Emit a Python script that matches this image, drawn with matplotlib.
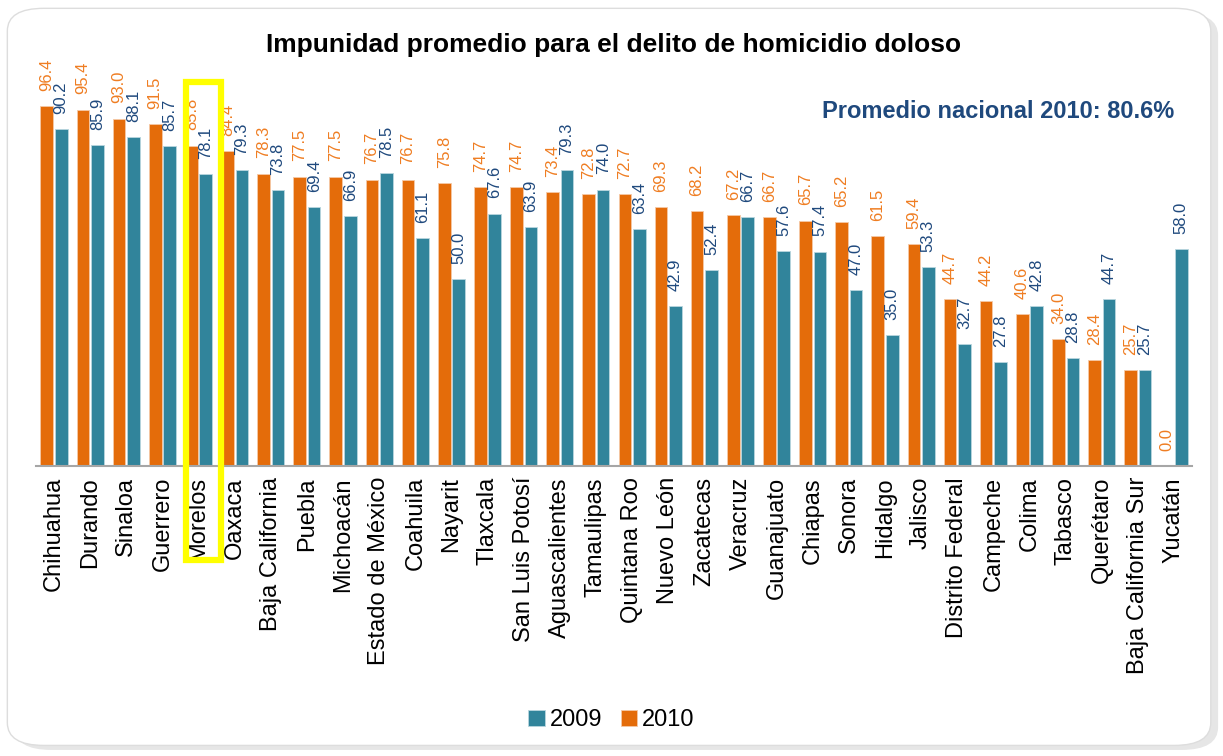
import matplotlib.pyplot as plt
import numpy as np
from matplotlib.patches import FancyBboxPatch, Rectangle

plt.rcParams['font.family'] = ['Liberation Sans', 'DejaVu Sans']

estados = ["Chihuahua", "Durando", "Sinaloa", "Guerrero", "Morelos", "Oaxaca",
           "Baja California", "Puebla", "Michoacán", "Estado de México", "Coahuila",
           "Nayarit", "Tlaxcala", "San Luis Potosí", "Aguascalientes", "Tamaulipas",
           "Quintana Roo", "Nuevo León", "Zacatecas", "Veracruz", "Guanajuato",
           "Chiapas", "Sonora", "Hidalgo", "Jalisco", "Distrito Federal", "Campeche",
           "Colima", "Tabasco", "Querétaro", "Baja California Sur", "Yucatán"]
v2010 = [96.4, 95.4, 93.0, 91.5, 85.8, 84.4, 78.3, 77.5, 77.5, 76.7, 76.7, 75.8,
         74.7, 74.7, 73.4, 72.8, 72.7, 69.3, 68.2, 67.2, 66.7, 65.7, 65.2, 61.5,
         59.4, 44.7, 44.2, 40.6, 34.0, 28.4, 25.7, 0.0]
v2009 = [90.2, 85.9, 88.1, 85.7, 78.1, 79.3, 73.8, 69.4, 66.9, 78.5, 61.1, 50.0,
         67.6, 63.9, 79.3, 74.0, 63.4, 42.9, 52.4, 66.7, 57.6, 57.4, 47.0, 35.0,
         53.3, 32.7, 27.8, 42.8, 28.8, 44.7, 25.7, 58.0]

c09 = '#31849B'
c10 = '#E46C0A'
lab09 = '#1F497D'
lab10 = '#EF7D22'

fig = plt.figure(figsize=(12.23, 7.56), dpi=100)
# rounded frame with soft shadow
fig.patches.append(FancyBboxPatch((0.012, 0.008), 0.984, 0.975, boxstyle="round,pad=0,rounding_size=0.03",
                                  transform=fig.transFigure, facecolor='#E6E6E6', edgecolor='none', zorder=-2))
fig.patches.append(FancyBboxPatch((0.006, 0.014), 0.984, 0.975, boxstyle="round,pad=0,rounding_size=0.03",
                                  transform=fig.transFigure, facecolor='white', edgecolor='#DDDDDD', lw=1, zorder=-1))

ax = fig.add_axes([0.0294, 0.3836, 0.9453, 0.5434])
ax.set_zorder(2)
ax.patch.set_visible(False)
x = np.arange(len(estados))
w = 0.35
b10 = ax.bar(x - 0.2, v2010, w, color=c10, edgecolor='#F5C9A6', linewidth=0.6, label='2010')
b09 = ax.bar(x + 0.2, v2009, w, color=c09, edgecolor='#B9D6DE', linewidth=0.6, label='2009')

for xi, v in zip(x, v2010):
    ax.annotate(f"{v:.1f}", (xi - 0.2, v), xytext=(0, 11), textcoords='offset points',
                rotation=90, ha='center', va='bottom', fontsize=12, color=lab10)
for xi, v in zip(x, v2009):
    ax.annotate(f"{v:.1f}", (xi + 0.2, v), xytext=(0, 11), textcoords='offset points',
                rotation=90, ha='center', va='bottom', fontsize=12, color=lab09)

ax.set_xlim(-0.5, 31.5)
ax.set_ylim(0, 110)
ax.set_xticks(x)
ax.set_xticklabels(estados, rotation=90, fontsize=17)
ax.tick_params(axis='x', length=0, pad=8)
ax.set_yticks([])
for s in ['top', 'right', 'left']:
    ax.spines[s].set_visible(False)
ax.spines['bottom'].set_color('#A6A6A6')
ax.spines['bottom'].set_linewidth(1.5)

# highlight Morelos
ax.add_patch(Rectangle((3.65, -25.2), 0.97, 128, fill=False, edgecolor='#FFFF00', lw=4.5,
                       clip_on=False, zorder=5))

fig.text(0.502, 0.94, "Impunidad promedio para el delito de homicidio doloso",
         ha='center', va='center', fontsize=19, fontweight='bold', color='black')
fig.text(0.96, 0.853, "Promedio nacional 2010: 80.6%", ha='right', va='center',
         fontsize=17, fontweight='bold', color='#1F497D')

fig.legend(handles=[b09, b10], labels=['2009', '2010'], loc='center', bbox_to_anchor=(0.5, 0.047),
           ncol=2, frameon=False, fontsize=17, handlelength=0.7, handleheight=0.7,
           handletextpad=0.2, columnspacing=0.8)

fig.savefig('out.png', dpi=100)
